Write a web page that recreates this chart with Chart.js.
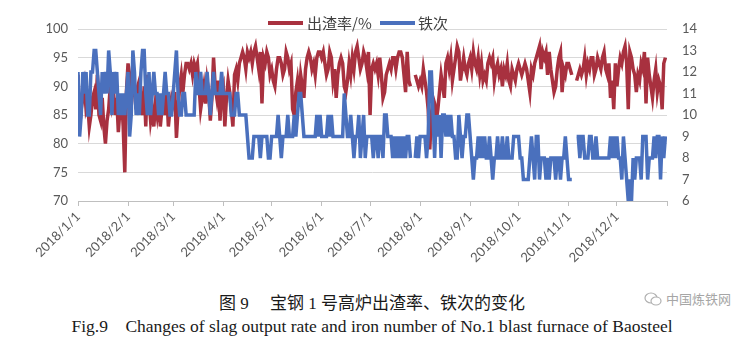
<!DOCTYPE html>
<html>
<head>
<meta charset="utf-8">
<script src="https://cdn.jsdelivr.net/npm/chart.js@4.4.0/dist/chart.umd.min.js"></script>
<style>
  body { margin: 0; background: #fff; width: 744px; height: 350px; position: relative; overflow: hidden; }
  #wrap { position: absolute; left: 0; top: 0; width: 744px; height: 270px; }
  .lg { position: absolute; top: 14px; font: 15px "Noto Sans CJK SC", sans-serif; color: #404040; line-height: 18px; }
  .bar { position: absolute; top: 21px; height: 4px; width: 35px; }
  .cap { position: absolute; left: 0; width: 744px; text-align: center; color: #1a1a1a; white-space: pre; }
  #cap1 { top: 289px; font: 17px "Liberation Serif", "Noto Sans CJK SC", serif; }
  #cap2 { top: 316px; font: 17.5px "Liberation Serif", serif; }
  #mark { position: absolute; left: 644px; top: 289px; font: 13px "Noto Sans CJK SC", sans-serif; color: #a6a6a6; }
  #mark svg { vertical-align: -3px; margin-right: 4px; }
</style>
</head>
<body>
<div id="wrap"><canvas id="cadre" width="744" height="270"></canvas></div>

<div class="bar" style="left:268px;background:#A8313F"></div>
<div class="lg" style="left:307px">出渣率/%</div>
<div class="bar" style="left:380px;background:#4A70BD"></div>
<div class="lg" style="left:418px">铁次</div>

<div class="cap" id="cap1">图 9　 宝钢 1 号高炉出渣率、铁次的变化</div>
<div class="cap" id="cap2">Fig.9    Changes of slag output rate and iron number of No.1 blast furnace of Baosteel</div>
<div id="mark"><svg width="18" height="16" viewBox="0 0 18 16"><ellipse cx="7" cy="7" rx="6" ry="5" fill="none" stroke="#b0b0b0" stroke-width="1.2"/><ellipse cx="12" cy="10" rx="5" ry="4" fill="#fff" stroke="#b0b0b0" stroke-width="1.2"/></svg>中国炼铁网</div>

<script>
const monthStarts = [0, 31, 59, 90, 120, 151, 181, 212, 243, 273, 304, 334];
const monthLabels = ["2018/1/1", "2018/2/1", "2018/3/1", "2018/4/1", "2018/5/1", "2018/6/1",
  "2018/7/1", "2018/8/1", "2018/9/1", "2018/10/1", "2018/11/1", "2018/12/1"];

// 出渣率/% , one value per day
const slagRate = [
  92, 83, 86, 88, 90, 86, 87, 83, 85, 88, 89, 86, 92, 85, 84, 88, 83, 80, 84, 86, 90, 87, 89, 85, 88, 82, 86, 88, 83, 75, 89,
  94, 92, 88, 92, 89, 86, 90, 91, 88, 85, 90, 83, 92, 88, 84, 86, 83, 87, 85, 88, 83, 86, 88, 85, 89, 83, 86, 88,
  87, 89, 81, 86, 90, 92, 89, 92, 94, 94, 93, 94, 92, 94, 93, 94, 90, 86, 88, 90, 87, 91, 89, 84, 88, 95, 90, 88, 91, 84, 89,
  90, 83, 88, 91, 89, 86, 83, 92, 93, 91, 94, 95, 96, 95, 93, 96, 95, 96, 94, 96, 97, 95, 93, 96, 87, 95, 94, 96, 95, 92,
  93, 91, 90, 93, 95, 95, 94, 92, 93, 96, 95, 93, 94, 86, 85, 89, 91, 88, 92, 90, 88, 93, 95, 96, 95, 93, 94, 92, 95, 96, 96,
  95, 96, 94, 92, 93, 96, 95, 91, 93, 88, 92, 94, 95, 94, 90, 89, 91, 94, 92, 95, 93, 96, 97, 95, 93, 94, 96, 95, 93, 96,
  85, 93, 94, 93, 94, 92, 95, 92, 88, 89, 92, 93, 94, 93, 95, 95, 93, 95, 96, 96, 95, 92, 89, 96, 91, 90, null, null, 92, 91, 90,
  91, 90, 93, 91, 89, 86, 79, 85, 88, 87, 84, 86, 89, 92, 90, 88, 94, 95, 93, 95, 91, 93, 95, 97, 96, 91, 93, 95, 93, 92, 94,
  95, 93, 96, 94, 93, 95, 92, 94, 91, 92, 91, 94, 95, 94, 95, 91, 93, 94, 92, 93, 90, 93, 92, 94, 91, 90, 93, 92, 91, 93,
  94, 93, 92, 93, 94, 93, 91, 89, 93, 92, 94, 95, 96, 97, 93, 96, 95, 96, 92, 96, 93, 91, 89, 90, 93, 95, 96, 89, 93, 92, 94,
  94, 93, 92, null, null, 91, 92, 93, 92, 93, 95, 92, 94, 93, 95, 95, 92, 93, 95, 94, 93, 95, 96, 93, 92, 94, 88, 91, 86, 94,
  90, 93, 95, 94, 96, 97, 94, 86, 96, 95, 93, 92, 89, 92, 91, 94, 93, 96, 87, 95, 92, 90, 88, 91, 93, 89, 91, 90, 86, 94, 95
];

// 铁次, one value per day
const tapCount = [
  12, 9, 10, 12, 11, 12, 10, 10, 12, 12, 13, 13, 12, 11, 10, 12, 11, 12, 11, 13, 12, 10, 12, 11, 12, 10, 11, 10, 11, 10, 11,
  12, 9, 10, 13, 12, 10, 11, 10, 12, 13, 13, 11, 10, 12, 10, 11, 12, 11, 11, 10, 11, 10, 11, 12, 11, 11, 10, 10,
  11, 12, 13, 11, 10, 10, 11, 11, 10, 10, 10, 10, 10, 10, 12, 11, 11, 12, 11, 11, 11, 12, 11, 10, 11, 12, 11, 11, 11, 11, 12,
  11, 11, 11, 11, 11, 10, 10, 10, 11, 11, 10, 10, 10, 10, 10, 9, 8, 8, 8, 9, 9, 9, 9, 8, 9, 9, 9, 9, 8, 8,
  9, 9, 9, 9, 10, 9, 8, 9, 9, 9, 10, 9, 9, 9, 10, 9, 10, 11, 11, 10, 9, 9, 9, 9, 9, 9, 9, 9, 10, 9, 10,
  9, 9, 9, 9, 10, 9, 10, 9, 9, 9, 9, 9, 9, 9, 11, 10, 9, 9, 10, 9, 8, 9, 9, 10, 8, 9, 10, 8, 9, 9,
  9, 9, 8, 9, 9, 8, 9, 9, 8, 10, 10, 9, 9, 9, 8, 9, 8, 9, 8, 9, 8, 9, 8, 9, 9, 8, null, null, 8, 9, 8,
  9, 9, 9, 9, 8, 9, 12, 12, 10, 8, 10, 9, 10, 8, 10, 10, 9, 10, 9, 10, 9, 9, 8, 8, 10, 9, 8, 9, 9, 10, 10,
  9, 8, 7, 8, 8, 9, 8, 9, 8, 9, 8, 8, 9, 8, 7, 8, 8, 9, 8, 8, 9, 8, 8, 9, 8, 8, 8, 9, 9, 9,
  9, 8, 8, 7, 7, 7, 7, 8, 9, 8, 7, 9, 9, 7, 8, 8, 8, 7, 8, 7, 8, 8, 8, 7, 8, 8, 7, 8, 8, 9, 8,
  7, 7, 7, null, null, 9, 9, 8, 9, 9, 8, 8, 8, 9, 9, 8, 8, 9, 8, 8, 8, 8, 8, 8, 8, 8, 9, 8, 9, 8,
  9, 8, 8, 7, 9, 8, 7, 6, 7, 6, 8, 7, 8, 8, 8, 7, 9, 9, 9, 7, 8, 8, 8, 9, 8, 9, 9, 7, 9, 8, 9
];

const dayIndex = slagRate.map((v, i) => i);

const axisFont = { family: "Lato", size: 13 };
const axisColor = "#595959";

const ctx = document.getElementById("cadre").getContext("2d");

const chart = new Chart(ctx, {
  type: "line",
  data: {
    labels: dayIndex,
    datasets: [
      {
        label: "出渣率/%",
        data: slagRate,
        yAxisID: "y",
        borderColor: "#A8313F",
        borderWidth: 3.5,
        pointRadius: 0,
        tension: 0,
        spanGaps: false,
        order: 2,
      },
      {
        label: "铁次",
        data: tapCount,
        yAxisID: "y1",
        borderColor: "#4A70BD",
        borderWidth: 3.5,
        pointRadius: 0,
        tension: 0,
        spanGaps: false,
        order: 1,
      },
    ],
  },
  options: {
    responsive: false,
    animation: false,
    devicePixelRatio: 1,
    layout: { padding: { top: 29, left: 0, right: 0, bottom: 0 } },
    plugins: { legend: { display: false }, tooltip: { enabled: false } },
    scales: {
      x: {
        type: "linear",
        min: 0,
        max: 365,
        afterBuildTicks: (s) => {
          s.ticks = monthStarts.concat([365]).map((v) => ({ value: v }));
        },
        afterFit: (s) => { s.height = 270 - 201; },
        ticks: {
          autoSkip: false,
          minRotation: 45,
          maxRotation: 45,
          padding: 3,
          font: axisFont,
          color: axisColor,
          callback: (v) => {
            const i = monthStarts.indexOf(v);
            return i >= 0 ? monthLabels[i] : "";
          },
        },
        grid: { drawOnChartArea: false, drawTicks: true, tickLength: 5, color: "#BFBFBF" },
        border: { display: true, color: "#BFBFBF" },
      },
      y: {
        position: "left",
        min: 70,
        max: 100,
        afterFit: (s) => { s.width = 78; },
        ticks: { stepSize: 5, padding: 10, font: axisFont, color: axisColor },
        grid: { color: "#D9D9D9", drawTicks: false },
        border: { display: false },
      },
      y1: {
        position: "right",
        min: 6,
        max: 14,
        afterFit: (s) => { s.width = 744 - 667; },
        ticks: { stepSize: 1, padding: 15, font: axisFont, color: axisColor },
        grid: { drawOnChartArea: false, drawTicks: false },
        border: { display: false },
      },
    },
  },
});
</script>
</body>
</html>
